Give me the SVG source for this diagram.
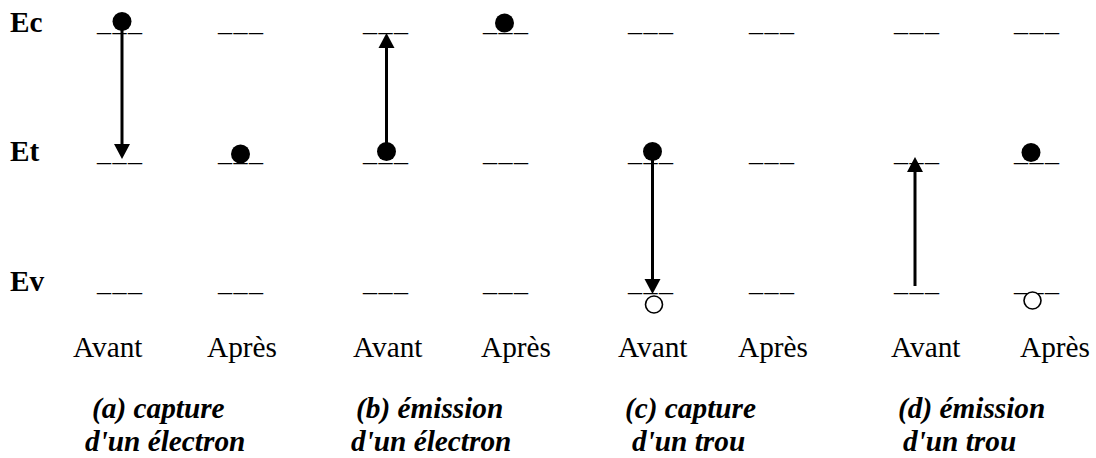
<svg xmlns="http://www.w3.org/2000/svg" width="1096" height="458" viewBox="0 0 1096 458">
<style>
text{font-family:'Liberation Serif','Times New Roman','DejaVu Serif',serif;font-size:29.3px;fill:#000}
.lab{font-weight:bold}
.cap{font-weight:bold;font-style:italic}
.lv{font-size:28px;letter-spacing:1.5px}
.dot{fill:#000}
.hole{fill:#fff;stroke:#000;stroke-width:1.6}
.arr{stroke:#000;stroke-width:3;fill:none;marker-end:url(#ah)}
</style>
<defs>
<marker id="ah" markerUnits="userSpaceOnUse" markerWidth="15" markerHeight="17" refX="0" refY="8" orient="auto" viewBox="0 0 15 16">
<path d="M0,0 L15,8 L0,16 z" fill="#000"/>
</marker>
</defs>
<rect width="1096" height="458" fill="#fff"/>
<g id="axis-labels">
<text class="lab" x="10" y="32">Ec</text>
<text class="lab" x="10" y="161">Et</text>
<text class="lab" x="10" y="291">Ev</text>
</g>
<g id="panel-a">
<text class="lv" x="97" y="31">___</text>
<text class="lv" x="97" y="161">___</text>
<text class="lv" x="97" y="291">___</text>
<text class="lv" x="218" y="31">___</text>
<text class="lv" x="218" y="161">___</text>
<text class="lv" x="218" y="291">___</text>
<circle class="dot" cx="122" cy="21.5" r="9.5"/>
<circle class="dot" cx="240.5" cy="154" r="9.5"/>
<text x="73" y="357">Avant</text>
<text x="207" y="357">Après</text>
<text class="cap" x="92" y="418">(a) capture</text>
<text class="cap" x="85" y="451">d'un électron</text>
</g>
<g id="panel-b">
<text class="lv" x="363" y="31">___</text>
<text class="lv" x="363" y="161">___</text>
<text class="lv" x="363" y="291">___</text>
<text class="lv" x="483" y="31">___</text>
<text class="lv" x="483" y="161">___</text>
<text class="lv" x="483" y="291">___</text>
<circle class="dot" cx="386.5" cy="151.5" r="9.5"/>
<circle class="dot" cx="504.5" cy="23" r="9.5"/>
<text x="353" y="357">Avant</text>
<text x="481" y="357">Après</text>
<text class="cap" x="356" y="418">(b) émission</text>
<text class="cap" x="351" y="451">d'un électron</text>
</g>
<g id="panel-c">
<text class="lv" x="628" y="31">___</text>
<text class="lv" x="628" y="161">___</text>
<text class="lv" x="628" y="291">___</text>
<text class="lv" x="749" y="31">___</text>
<text class="lv" x="749" y="161">___</text>
<text class="lv" x="749" y="291">___</text>
<circle class="dot" cx="652.5" cy="151.5" r="9.5"/>
<circle class="hole" cx="654" cy="304.5" r="8.5"/>
<text x="618" y="357">Avant</text>
<text x="738" y="357">Après</text>
<text class="cap" x="625" y="418">(c) capture</text>
<text class="cap" x="632" y="451">d'un trou</text>
</g>
<g id="panel-d">
<text class="lv" x="894" y="31">___</text>
<text class="lv" x="894" y="161">___</text>
<text class="lv" x="894" y="291">___</text>
<text class="lv" x="1014" y="31">___</text>
<text class="lv" x="1014" y="161">___</text>
<text class="lv" x="1014" y="291">___</text>
<circle class="dot" cx="1031" cy="152.5" r="9.5"/>
<circle class="hole" cx="1032.5" cy="300.5" r="8.5"/>
<text x="891" y="357">Avant</text>
<text x="1020" y="357">Après</text>
<text class="cap" x="898" y="418">(d) émission</text>
<text class="cap" x="903" y="451">d'un trou</text>
</g>
<g id="connectors">
<line class="arr" x1="122" y1="30" x2="122" y2="144"/>
<line class="arr" x1="386.5" y1="152" x2="386.5" y2="48"/>
<line class="arr" x1="652.5" y1="152" x2="652.5" y2="279"/>
<line class="arr" x1="915" y1="286" x2="915" y2="172"/>
</g>
</svg>
